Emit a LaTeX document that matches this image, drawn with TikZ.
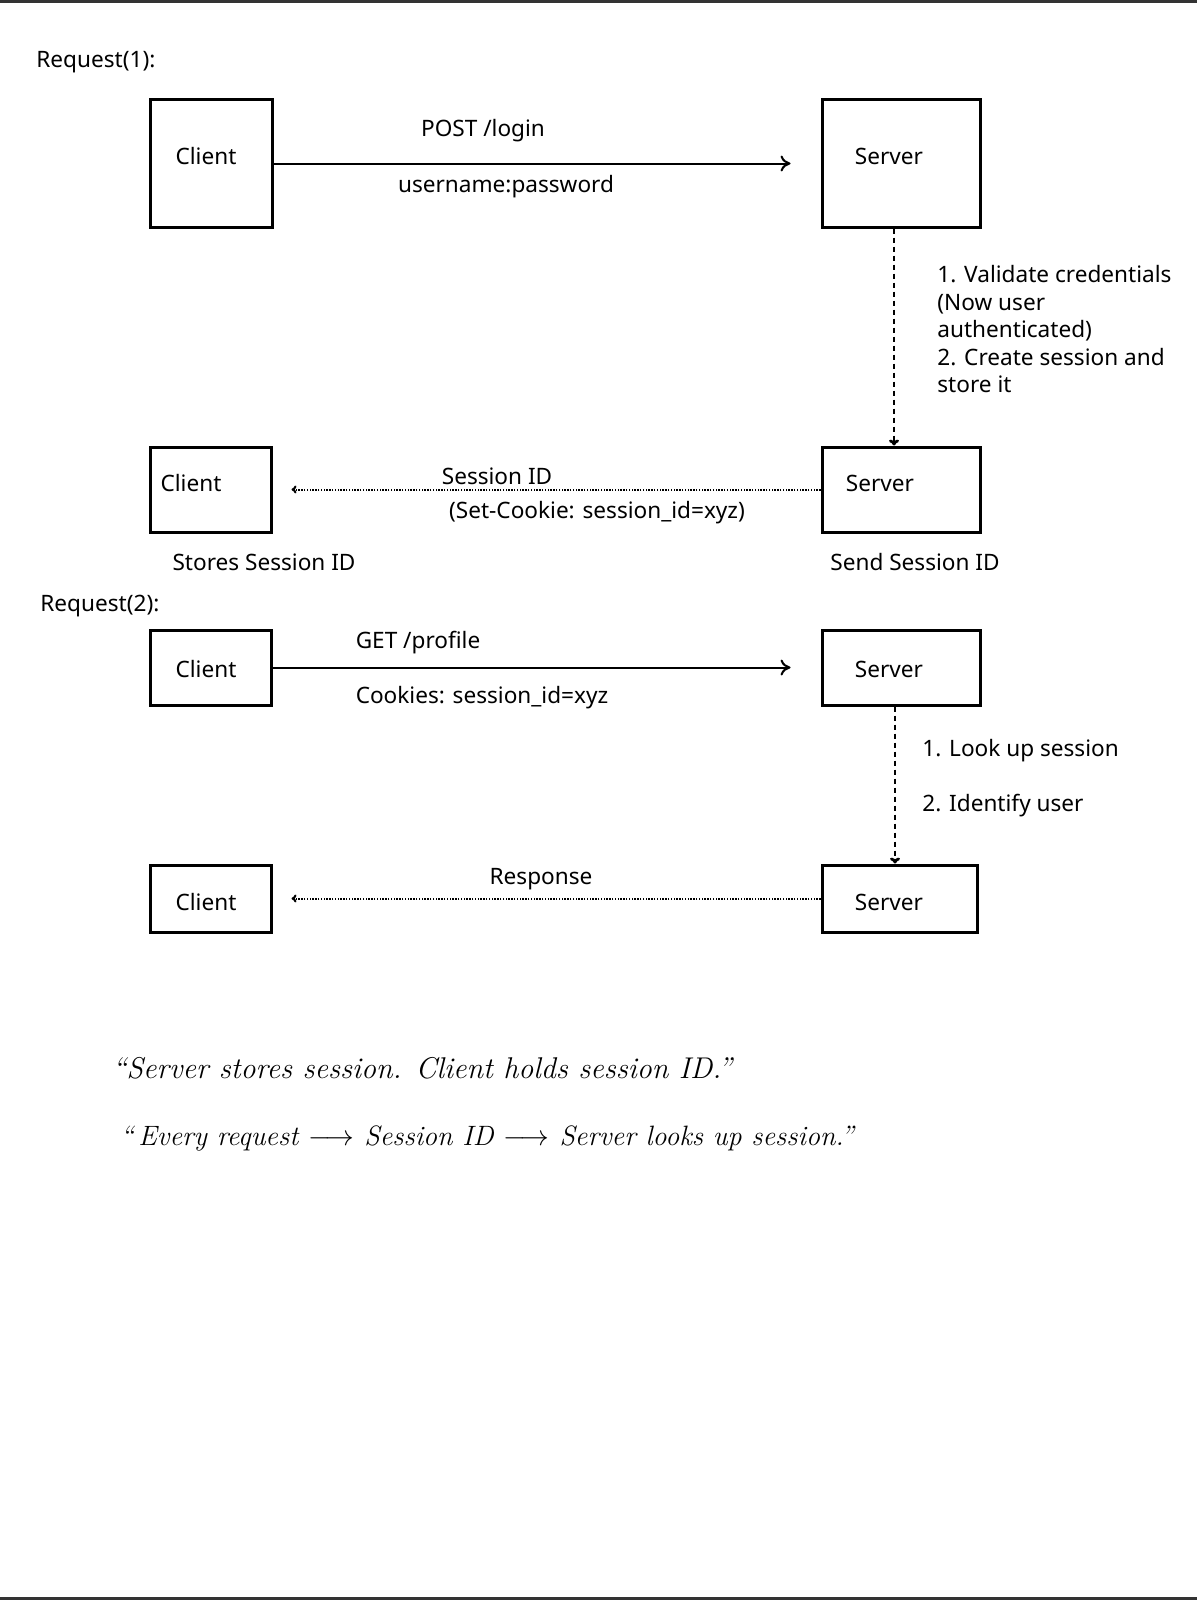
\documentclass[tikz,border=0pt]{standalone}
\usepackage{fontspec}
\setsansfont{Noto Sans}
\usetikzlibrary{arrows.meta}

\begin{document}
\begin{tikzpicture}[x=0.5pt,y=-0.5pt,
  every node/.style={font=\sffamily\fontsize{11.3}{13.75}\selectfont,inner sep=0pt},
  box/.style={draw,line width=1.5pt},
  req/.style={line width=1pt,-{To[length=5pt,width=8pt]}},
  resp/.style={line width=1pt,dash pattern=on 0.7pt off 0.7pt,-{To[length=2.5pt,width=4pt]}},
  proc/.style={line width=1.4pt,dash pattern=on 2.5pt off 2pt,-{To[length=3pt,width=5pt]}},
  hand/.style={font=\rmfamily\itshape\fontsize{14}{17}\selectfont}]

% page frame
\useasboundingbox (0,0) rectangle (1197,1600);
\draw[line width=1.5pt,black!80] (0,1.5) -- (1197,1.5);
\draw[line width=1.5pt,black!80] (0,1598.5) -- (1197,1598.5);

% Request(1)
\node[anchor=west] (rq1) at (36,62) {Request(1):};
\node[box,minimum width=61pt,minimum height=63.5pt] (c1) at (211,163.5) {};
\node[box,minimum width=79pt,minimum height=63.5pt] (s1) at (901,163.5) {};
\node (c1t) at (206,156) {Client};
\node (s1t) at (889,156) {Server};
\draw[req] (c1.east) -- ([xshift=-15pt]s1.west);
\node (post) at (483,131) {POST /login};
\node (cred) at (506,187) {username:password};

% server creates the session
\node[box,minimum width=60.5pt,minimum height=42.5pt] (c2) at (210.5,489.5) {};
\node[box,minimum width=79pt,minimum height=42.5pt] (s2) at (901,489.5) {};
\node (c2t) at (191,483) {Client};
\node (s2t) at (880,483) {Server};
\draw[proc] ([xshift=-3.5pt]s1.south) -- ([xshift=-3.5pt]s2.north);
\node[anchor=north west,align=left] (val) at (937,265)
  {1. Validate credentials\\(Now user\\authenticated)\\2. Create session and\\store it};
\draw[resp] (s2.west) -- ([xshift=9.5pt]c2.east);
\node (sid) at (497,476) {Session ID};
\node (setc) at (597,513) {(Set-Cookie: session\_id=xyz)};
\node (store) at (264,562) {Stores Session ID};
\node (send) at (915,562) {Send Session ID};

% Request(2)
\node[anchor=west] (rq2) at (40,606) {Request(2):};
\node[box,minimum width=60.5pt,minimum height=37.5pt] (c3) at (210.5,667.5) {};
\node[box,minimum width=79pt,minimum height=37.5pt] (s3) at (901,667.5) {};
\node (c3t) at (206,669) {Client};
\node (s3t) at (889,669) {Server};
\draw[req] (c3.east) -- ([xshift=-15pt]s3.west);
\node (get) at (418,643) {GET /profile};
\node (cook) at (482,698) {Cookies: session\_id=xyz};

% server looks up the session
\node[box,minimum width=60.5pt,minimum height=33.5pt] (c4) at (210.5,898.5) {};
\node[box,minimum width=77.5pt,minimum height=33.5pt] (s4) at (899.5,898.5) {};
\node (c4t) at (206,902) {Client};
\node (s4t) at (889,902) {Server};
\draw[proc] ([xshift=-3pt]s3.south) -- ([xshift=-2.25pt]s4.north);
\node[anchor=west] (look) at (922,751) {1. Look up session};
\node[anchor=west] (ident) at (922,806) {2. Identify user};
\draw[resp] (s4.west) -- ([xshift=9.5pt]c4.east);
\node (res) at (541,879) {Response};

% notes
\node[hand,anchor=west,font=\rmfamily\itshape\fontsize{15}{18}\selectfont] (note1) at (112,1068)
  {``Server stores session. Client holds session ID.''};
\node[hand,anchor=west] (note2) at (120,1138)
  {``\,Every request $\longrightarrow$ Session ID $\longrightarrow$ Server looks up session.''};

\end{tikzpicture}
\end{document}
